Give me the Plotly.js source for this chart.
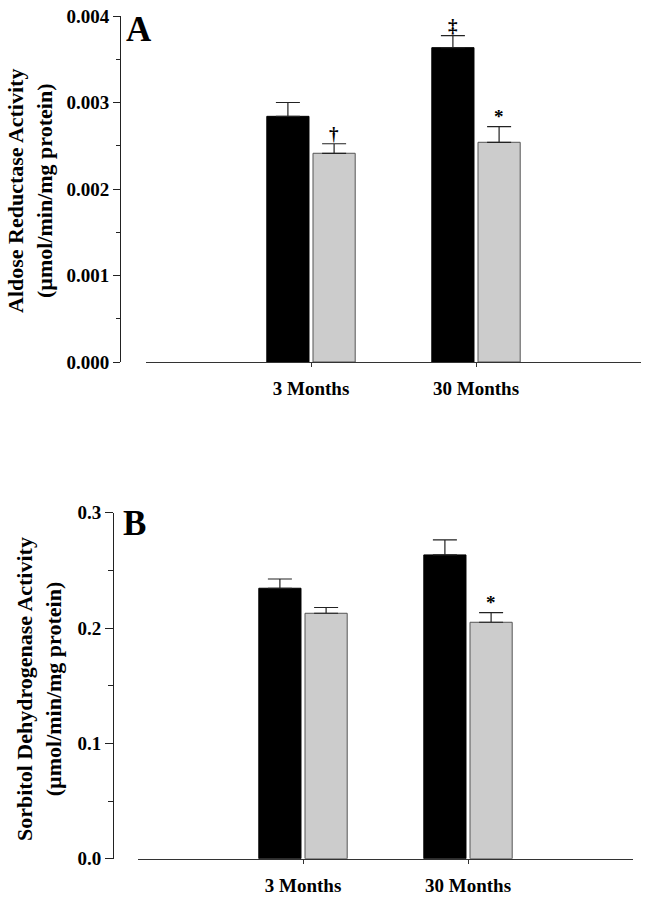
<!DOCTYPE html>
<html><head><meta charset="utf-8">
<script src="https://cdn.plot.ly/plotly-3.0.1.min.js"></script>
<style>html,body{margin:0;padding:0;background:#fff}</style>
</head><body>
<div id="chart" style="width:645px;height:897px"></div>
<script>
const categories = ['3 Months', '30 Months'];

// Panel A: Aldose reductase activity (µmol/min/mg protein)
const arBlack = [0.00284, 0.003634];
const arBlackErr = [0.00016, 0.00014];
const arGray = [0.002413, 0.00254];
const arGrayErr = [0.00011, 0.00018];
const arBlackMarks = ['', '‡'];
const arGrayMarks = ['†', '*'];

// Panel B: Sorbitol dehydrogenase activity (µmol/min/mg protein)
const sdhBlack = [0.2345, 0.2634];
const sdhBlackErr = [0.008, 0.013];
const sdhGray = [0.2128, 0.2050];
const sdhGrayErr = [0.005, 0.0084];
const sdhBlackMarks = ['', ''];
const sdhGrayMarks = ['', '*'];

const FONT = 'Liberation Serif, Times New Roman, serif';
const BARGAP = 0.44, BARGROUPGAP = 0.087;

function bar(y, err, color, xa, ya) {
  return {
    type: 'bar', x: categories, y: y, xaxis: xa, yaxis: ya,
    marker: {color: color, line: {color: color === '#000000' ? '#000000' : '#555555', width: 1}},
    error_y: {type: 'data', array: err, arrayminus: err.map(() => 0), symmetric: false,
              color: '#222222', thickness: 1.2, width: 12},
    showlegend: false, hoverinfo: 'y'
  };
}

const data = [
  bar(arBlack, arBlackErr, '#000000', 'x', 'y'),
  bar(arGray, arGrayErr, '#cccccc', 'x', 'y'),
  bar(sdhBlack, sdhBlackErr, '#000000', 'x2', 'y2'),
  bar(sdhGray, sdhGrayErr, '#cccccc', 'x2', 'y2')
];

// offset of each bar centre from its category centre, from the bar gap settings
const slot = (1 - BARGAP) / 2;
const offsets = [-slot / 2, slot / 2];

const annotations = [];
function marks(list, vals, errs, k, xref, yref) {
  list.forEach((m, i) => {
    if (!m) return;
    annotations.push({text: m, x: i + offsets[k], y: vals[i] + errs[i], xref: xref, yref: yref,
      showarrow: false, yanchor: 'bottom', xanchor: 'center', yshift: -2,
      font: {family: FONT, size: 19, weight: 'bold', color: '#000000'}});
  });
}
marks(arBlackMarks, arBlack, arBlackErr, 0, 'x', 'y');
marks(arGrayMarks, arGray, arGrayErr, 1, 'x', 'y');
marks(sdhBlackMarks, sdhBlack, sdhBlackErr, 0, 'x2', 'y2');
marks(sdhGrayMarks, sdhGray, sdhGrayErr, 1, 'x2', 'y2');

// panel letters and y titles
annotations.push({text: 'A', xref: 'paper', yref: 'paper', x: 124/645, y: 1 - 29/897, xanchor: 'left', yanchor: 'middle',
  showarrow: false, font: {family: FONT, size: 35, weight: 'bold', color: '#000'}});
annotations.push({text: 'B', xref: 'paper', yref: 'paper', x: 121/645, y: 1 - 523/897, xanchor: 'left', yanchor: 'middle',
  showarrow: false, font: {family: FONT, size: 35, weight: 'bold', color: '#000'}});
annotations.push({text: 'Aldose Reductase Activity<br>(µmol/min/mg protein)', xref: 'paper', yref: 'paper',
  x: 30/645, y: 1 - 191/897, xanchor: 'center', yanchor: 'middle', textangle: -90, showarrow: false,
  font: {family: FONT, size: 22, weight: 'bold', color: '#000'}});
annotations.push({text: 'Sorbitol Dehydrogenase Activity<br>(µmol/min/mg protein)', xref: 'paper', yref: 'paper',
  x: 39/645, y: 1 - 689/897, xanchor: 'center', yanchor: 'middle', textangle: -90, showarrow: false,
  font: {family: FONT, size: 22, weight: 'bold', color: '#000'}});

const tickfont = {family: FONT, size: 19, weight: 'bold', color: '#000'};
const xcommon = {type: 'category', range: [-1, 2], showgrid: false, zeroline: false, showline: true,
  linecolor: '#333', linewidth: 1.2, ticks: 'outside', ticklen: 4, tickcolor: '#333', tickfont: tickfont,
  ticklabelstandoff: 5, fixedrange: true};
const ycommon = {showgrid: false, zeroline: false, showline: true, linecolor: '#222', linewidth: 1.2,
  ticks: 'outside', tickcolor: '#222', tickfont: tickfont, anchor: 'free', fixedrange: true};

const layout = {
  width: 645, height: 897, margin: {l: 0, r: 0, t: 0, b: 0},
  paper_bgcolor: '#fff', plot_bgcolor: 'rgba(0,0,0,0)',
  barmode: 'group', bargap: BARGAP, bargroupgap: BARGROUPGAP,
  showlegend: false,
  xaxis: Object.assign({}, xcommon, {domain: [146/645, 641/645], anchor: 'y'}),
  yaxis: Object.assign({}, ycommon, {domain: [1 - 362/897, 1 - 16/897], position: 120/645,
    range: [0, 0.004], tickvals: [0, 0.001, 0.002, 0.003, 0.004], tickformat: '.3f', ticklen: 7,
    minor: {tickvals: [0.0005, 0.0015, 0.0025, 0.0035], ticks: 'outside', ticklen: 4, tickcolor: '#222'}}),
  xaxis2: Object.assign({}, xcommon, {domain: [138/645, 633/645], anchor: 'y2'}),
  yaxis2: Object.assign({}, ycommon, {domain: [1 - 858.7/897, 1 - 512.7/897], position: 113/645,
    range: [0, 0.3], tickvals: [0, 0.1, 0.2, 0.3], tickformat: '.1f', ticklen: 8,
    minor: {tickvals: [0.05, 0.15, 0.25], ticks: 'outside', ticklen: 5, tickcolor: '#222'}}),
  annotations: annotations
};

Plotly.newPlot('chart', data, layout, {displayModeBar: false, staticPlot: true});
</script>
</body></html>
